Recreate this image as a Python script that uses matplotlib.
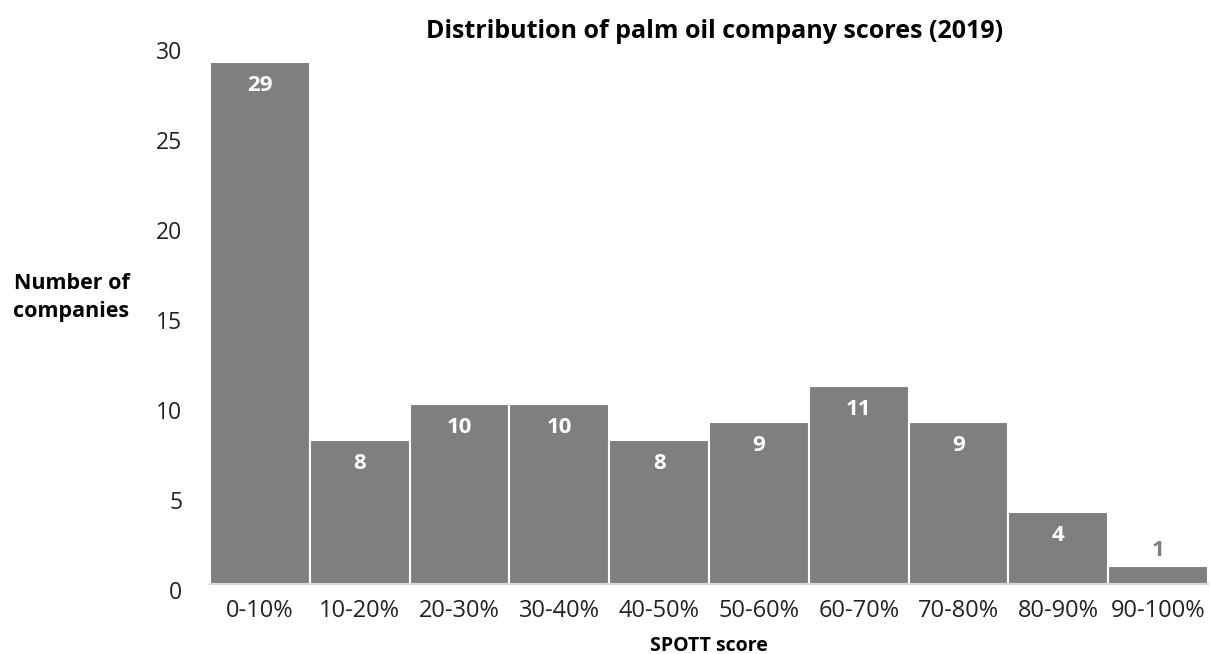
import matplotlib
matplotlib.use("Agg")
import matplotlib.pyplot as plt
from matplotlib.transforms import ScaledTranslation

bins = ["0-10%", "10-20%", "20-30%", "30-40%", "40-50%",
        "50-60%", "60-70%", "70-80%", "80-90%", "90-100%"]
counts = [29, 8, 10, 10, 8, 9, 11, 9, 4, 1]
yticks = [0, 5, 10, 15, 20, 25, 30]

plt.rcParams["font.family"] = ["Open Sans", "DejaVu Sans"]

fig = plt.figure(figsize=(12.12, 6.54), dpi=100)
ax = fig.add_axes([0.1733, 0.107, 0.8234, 0.826])

xs = list(range(len(bins)))
ax.bar(xs, counts, width=1.0, color="#7f7f7f", edgecolor="white", linewidth=1.5)

for x, c in zip(xs, counts):
    if c >= 3:
        ax.annotate(str(c), (x, c), xytext=(0, -17), textcoords="offset points",
                    ha="center", va="center", color="white",
                    fontsize=16, fontweight="bold")
    else:
        ax.annotate(str(c), (x, c), xytext=(0, 11), textcoords="offset points",
                    ha="center", va="center", color="#7f7f7f",
                    fontsize=16, fontweight="bold")

ax.set_xlim(-0.5, len(bins) - 0.5)
ax.set_ylim(0, 30)
ax.set_xticks(xs)
ax.set_xticklabels(bins, fontsize=17, color="#222222")
ax.set_yticks(yticks)
ax.set_yticklabels([str(t) for t in yticks], fontsize=16.5, color="#222222")
ax.tick_params(axis="both", length=0)
ax.tick_params(axis="y", pad=20)
ax.tick_params(axis="x", pad=11)
offset = ScaledTranslation(0, -6 / 100, fig.dpi_scale_trans)
for lab in ax.get_yticklabels():
    lab.set_transform(lab.get_transform() + offset)

for s in ["top", "right", "left"]:
    ax.spines[s].set_visible(False)
ax.spines["bottom"].set_color("#d9d9d9")
ax.spines["bottom"].set_linewidth(1.5)

ax.set_title("Distribution of palm oil company scores (2019)",
             fontsize=18, fontweight="bold", pad=3, x=0.506)
ax.set_xlabel("SPOTT score", fontsize=14, fontweight="bold", labelpad=9)
fig.text(0.059, 0.545, "Number of\ncompanies", fontsize=15.5, fontweight="bold",
         ha="center", va="center", linespacing=1.45)

fig.savefig("out.png", dpi=100)
